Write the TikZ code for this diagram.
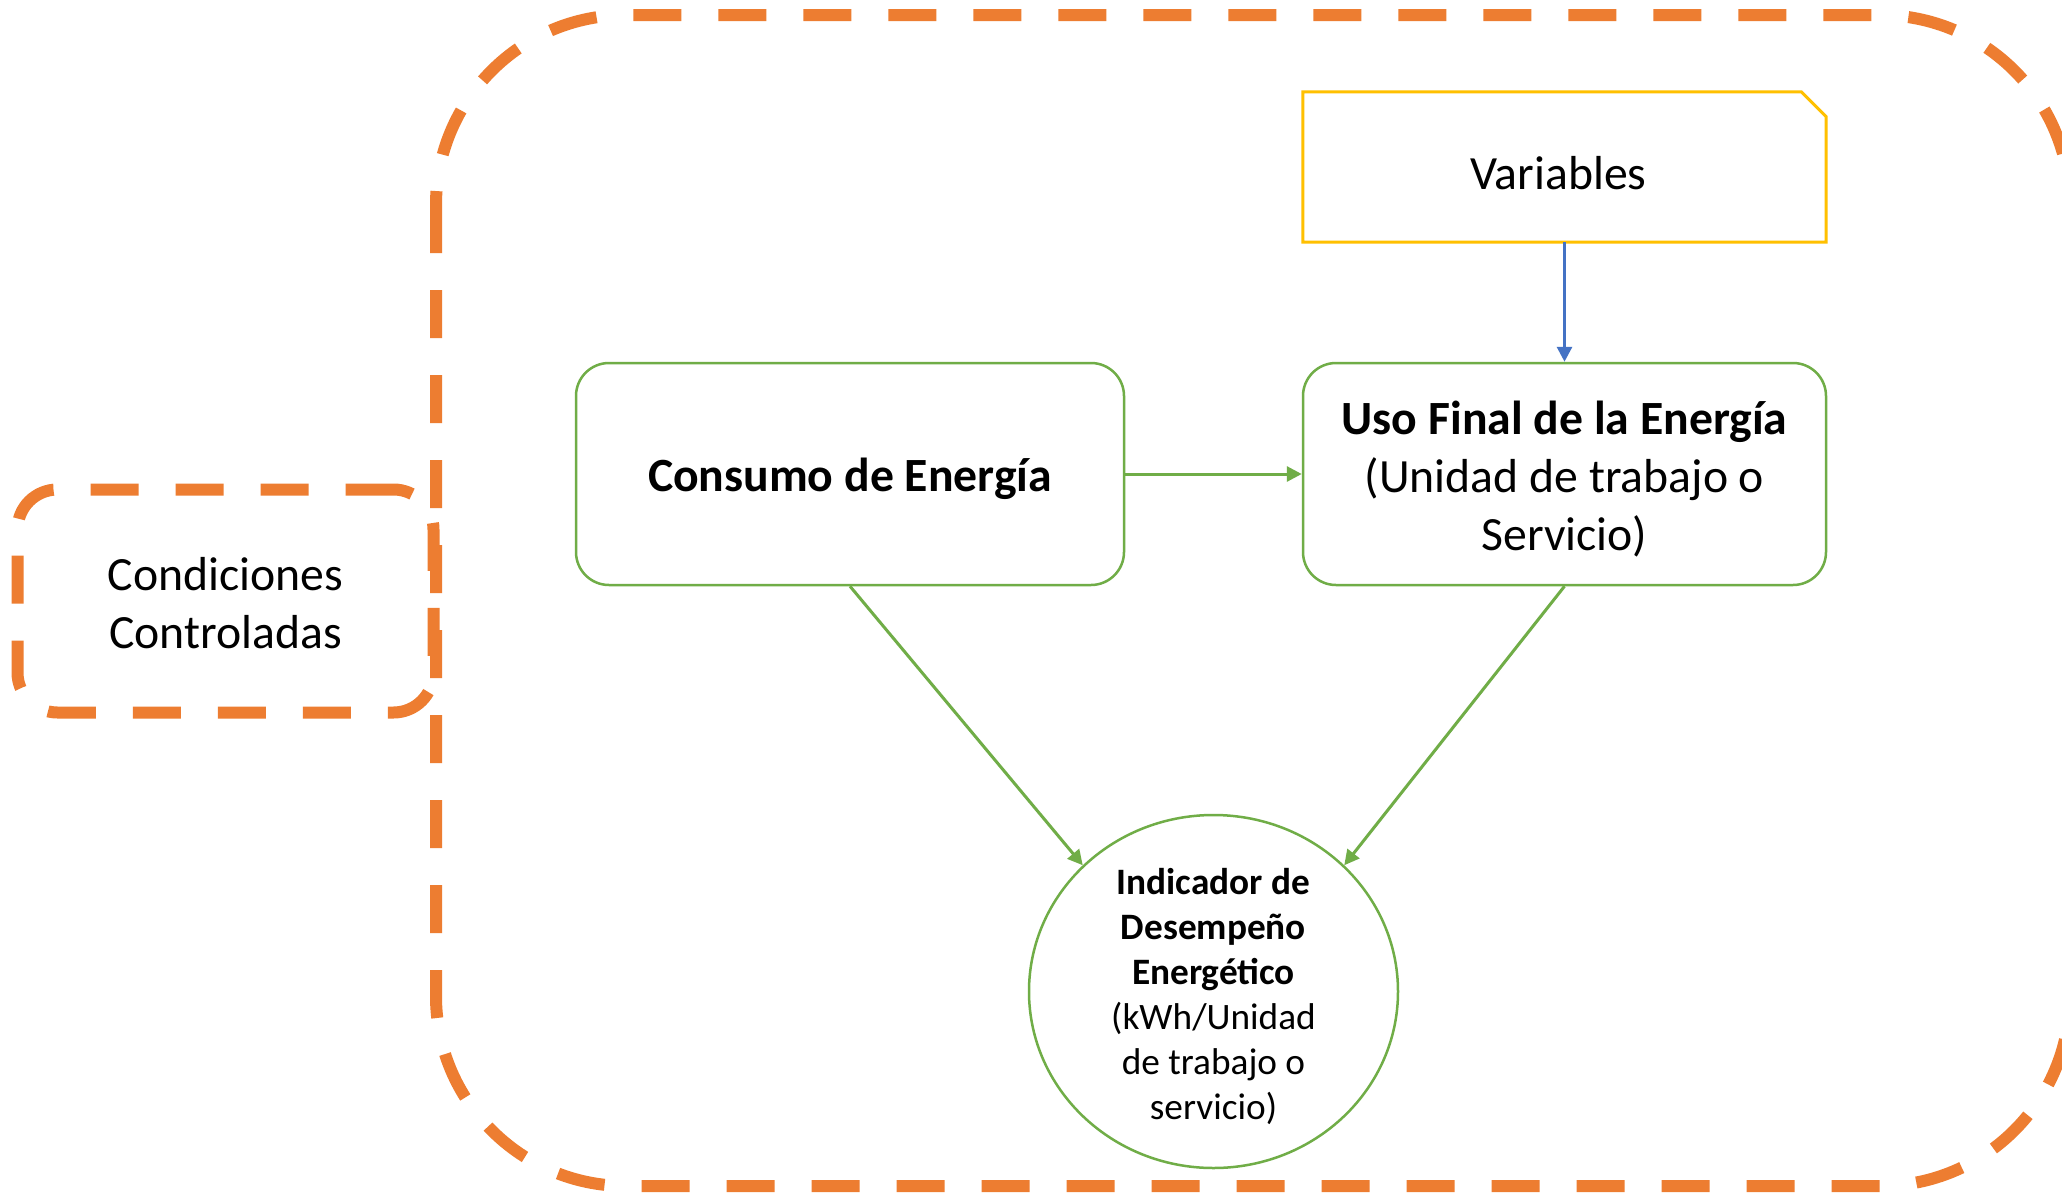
\documentclass[tikz,border=0pt]{standalone}
\usepackage{fontspec}
\setmainfont{Carlito}
\usetikzlibrary{arrows.meta,shapes.geometric}
\definecolor{orng}{HTML}{ED7D31}
\definecolor{grn}{HTML}{70AD47}
\definecolor{yel}{HTML}{FFC000}
\definecolor{blu}{HTML}{4472C4}
\begin{document}
\begin{tikzpicture}[x=1pt,y=-1pt,
  dashbox/.style={draw=orng, line width=12pt, dash pattern=on 48pt off 37pt},
  gbox/.style={draw=grn, line width=2.5pt, rounded corners=33pt, inner sep=0pt},
  txt/.style={align=center, inner sep=0pt},
  garrow/.style={draw=grn, line width=3pt, -{Triangle[length=15pt,width=15pt]}},
  barrow/.style={draw=blu, line width=3pt, -{Triangle[length=15pt,width=15pt]}},
  bigfont/.style={font=\fontsize{47.7}{58}\selectfont},
  smallfont/.style={font=\fontsize{37.3}{45}\selectfont}]
\useasboundingbox (0,0) rectangle (2062,1192);
\fill[white] (0,0) rectangle (2062,1192);
\draw[dashbox, rounded corners=190pt] (436,15) rectangle (2070,1186);
\node[dashbox, rounded corners=40pt, minimum width=416pt, minimum height=223pt, inner sep=0pt] (cond) at (225.5,601) {};
\node[txt, bigfont] (condtxt) at ([yshift=-2pt]cond.center) {Condiciones\\Controladas};
\node[gbox, minimum width=548pt, minimum height=222pt] (cons) at (850,474) {};
\node[txt, bigfont] (constxt) at ([yshift=-5pt]cons.center) {\textbf{Consumo de Energía}};
\node[gbox, minimum width=523pt, minimum height=222pt] (uso) at (1564.5,474) {};
\node[txt, bigfont] (usotxt) at ([yshift=-5pt]uso.center) {\textbf{Uso Final de la Energía}\\(Unidad de trabajo o\\Servicio)};
\node[minimum width=523pt, minimum height=150pt, inner sep=0pt] (var) at (1564.5,167) {};
\node[txt, bigfont] (vartxt) at ([xshift=-6pt,yshift=-6pt]var.center) {Variables};
\draw[draw=yel, line width=3pt] (var.south west) -- (var.north west) -- ([xshift=-25pt]var.north east) -- ([yshift=-25pt]var.north east) -- (var.south east) -- cycle;
\node[ellipse, draw=grn, line width=2.5pt, minimum width=369pt, minimum height=353pt, inner sep=0pt] (ind) at (1213.5,991.5) {};
\node[txt, smallfont] (indtxt) at ([yshift=-5pt]ind.center) {\textbf{Indicador de}\\\textbf{Desempeño}\\\textbf{Energético}\\(kWh/Unidad\\de trabajo o\\servicio)};
\draw[garrow] (cons.east) -- (uso.west);
\draw[barrow] (var.south) -- (uso.north);
\draw[garrow] (cons.south) -- (ind.136);
\draw[garrow] (uso.south) -- (ind.44);
\end{tikzpicture}
\end{document}
